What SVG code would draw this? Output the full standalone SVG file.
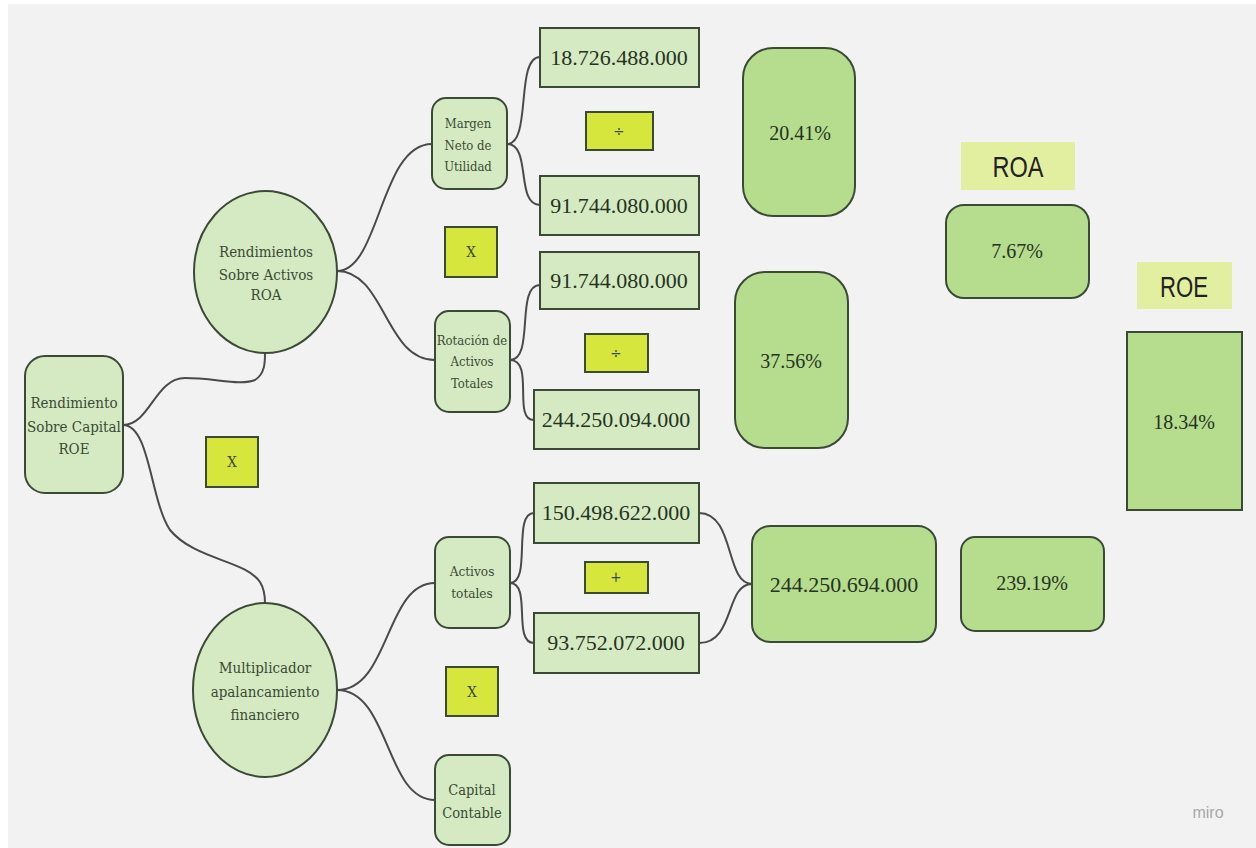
<svg xmlns="http://www.w3.org/2000/svg" width="1256" height="848" viewBox="0 0 1256 848">
<style>
.lt{fill:#d5eac2;stroke:#3b4a36;stroke-width:2}
.dk{fill:#b6dc8e;stroke:#3b4a36;stroke-width:2}
.op{fill:#d6e63c;stroke:#3b4a36;stroke-width:2}
.lbl{fill:#e3efa0}
.con{fill:none;stroke:#4a4a4a;stroke-width:2}
.s{font-family:"DejaVu Serif",serif;font-stretch:condensed;fill:#3a4a35;text-anchor:middle}
.n{font-family:"Liberation Serif",serif;font-size:22px;fill:#263322;text-anchor:middle}
.p{font-family:"Liberation Serif",serif;font-size:20px;fill:#263322;text-anchor:middle}
.o{font-family:"DejaVu Serif",serif;font-stretch:condensed;font-size:15px;fill:#3a4a35;text-anchor:middle}
.h{font-family:"Liberation Sans",sans-serif;font-size:30px;fill:#222;text-anchor:middle}
</style>
<rect width="1256" height="848" fill="#ffffff"/>
<rect x="8" y="4" width="1248" height="844" fill="#f2f2f2"/>
<g id="connectors">
<path class="con" d="M123,425 C150,425 155,378 185,378 C215,378 240,386 255,380 C265,374 265,362 265,353"/>
<path class="con" d="M123,425 C150,425 150,500 170,530 C195,560 245,560 260,582 C265,590 265,597 265,603"/>
<path class="con" d="M337,271 C380,271 380,144 432,144"/>
<path class="con" d="M337,271 C385,271 385,360 435,360"/>
<path class="con" d="M337,690 C390,690 385,583 435,583"/>
<path class="con" d="M337,690 C390,690 385,800 435,800"/>
<path class="con" d="M507,144 C532,144 515,57 540,57"/>
<path class="con" d="M507,144 C532,144 515,205 540,205"/>
<path class="con" d="M510,360 C535,360 515,285 540,285"/>
<path class="con" d="M510,360 C535,360 512,420 534,420"/>
<path class="con" d="M510,583 C532,583 512,513 534,513"/>
<path class="con" d="M510,583 C532,583 512,643 534,643"/>
<path class="con" d="M699,513 C735,513 725,584 752,584"/>
<path class="con" d="M699,643 C735,643 725,584 752,584"/>
</g>
<g id="root"><rect class="lt" x="25" y="356" width="98" height="137" rx="20"/>
<text class="s" style="font-size:15px"><tspan x="74" y="408">Rendimiento</tspan><tspan x="74" y="432">Sobre Capital</tspan><tspan x="74" y="454">ROE</tspan></text></g>
<g id="roa-circle"><ellipse class="lt" cx="265.5" cy="272" rx="71.5" ry="81"/>
<text class="s" style="font-size:15px"><tspan x="266" y="257">Rendimientos</tspan><tspan x="266" y="280">Sobre Activos</tspan><tspan x="266" y="300">ROA</tspan></text></g>
<g id="mult-circle"><ellipse class="lt" cx="265" cy="690" rx="72" ry="87"/>
<text class="s" style="font-size:15px"><tspan x="265" y="673">Multiplicador</tspan><tspan x="265" y="697">apalancamiento</tspan><tspan x="265" y="720">financiero</tspan></text></g>
<g id="op-x1"><rect class="op" x="206" y="437" width="52" height="50"/><text class="o" x="232" y="467">X</text></g>
<g id="margen"><rect class="lt" x="432" y="98" width="75" height="91" rx="14"/>
<text class="s" style="font-size:13px"><tspan x="468" y="128">Margen</tspan><tspan x="468" y="150">Neto de</tspan><tspan x="468" y="171">Utilidad</tspan></text></g>
<g id="v1"><rect class="lt" x="540" y="28" width="159" height="59"/><text class="n" x="619" y="65">18.726.488.000</text></g>
<g id="op-div1"><rect class="op" x="586" y="112" width="67" height="38"/><text class="o" x="619" y="136">÷</text></g>
<g id="v2"><rect class="lt" x="540" y="176" width="159" height="59"/><text class="n" x="619" y="213">91.744.080.000</text></g>
<g id="op-x2"><rect class="op" x="445" y="227" width="52" height="50"/><text class="o" x="471" y="257">X</text></g>
<g id="v3"><rect class="lt" x="540" y="252" width="159" height="57"/><text class="n" x="619" y="288">91.744.080.000</text></g>
<g id="rotacion"><rect class="lt" x="435" y="311" width="75" height="101" rx="14"/>
<text class="s" style="font-size:13px"><tspan x="472" y="345">Rotación de</tspan><tspan x="472" y="366">Activos</tspan><tspan x="472" y="388">Totales</tspan></text></g>
<g id="op-div2"><rect class="op" x="585" y="334" width="63" height="38"/><text class="o" x="616" y="358">÷</text></g>
<g id="v4"><rect class="lt" x="534" y="390" width="165" height="59"/><text class="n" x="616" y="427">244.250.094.000</text></g>
<g id="r1"><rect class="dk" x="743" y="48" width="112" height="168" rx="30"/><text class="p" x="800" y="140">20.41%</text></g>
<g id="r2"><rect class="dk" x="735" y="272" width="113" height="176" rx="30"/><text class="p" x="791" y="368">37.56%</text></g>
<g id="roa-label"><rect class="lbl" x="961" y="142" width="114" height="48"/><text class="h" x="1018" y="177" textLength="51" lengthAdjust="spacingAndGlyphs">ROA</text></g>
<g id="roa-val"><rect class="dk" x="946" y="205" width="143" height="93" rx="18"/><text class="p" x="1017" y="258">7.67%</text></g>
<g id="roe-label"><rect class="lbl" x="1137" y="262" width="95" height="47"/><text class="h" x="1184" y="297" textLength="48" lengthAdjust="spacingAndGlyphs">ROE</text></g>
<g id="roe-val"><rect class="dk" x="1127" y="332" width="115" height="178"/><text class="p" x="1184" y="429">18.34%</text></g>
<g id="activos"><rect class="lt" x="435" y="537" width="75" height="91" rx="14"/>
<text class="s" style="font-size:13.5px"><tspan x="472" y="576">Activos</tspan><tspan x="472" y="598">totales</tspan></text></g>
<g id="v5"><rect class="lt" x="534" y="483" width="165" height="60"/><text class="n" x="616" y="520">150.498.622.000</text></g>
<g id="op-plus"><rect class="op" x="585" y="562" width="63" height="31"/><text class="o" x="616" y="582">+</text></g>
<g id="v6"><rect class="lt" x="534" y="613" width="165" height="60"/><text class="n" x="616" y="650">93.752.072.000</text></g>
<g id="op-x3"><rect class="op" x="446" y="667" width="52" height="49"/><text class="o" x="472" y="697">X</text></g>
<g id="capital"><rect class="lt" x="435" y="755" width="75" height="90" rx="14"/>
<text class="s" style="font-size:14.5px"><tspan x="472" y="795">Capital</tspan><tspan x="472" y="818">Contable</tspan></text></g>
<g id="sum"><rect class="dk" x="752" y="526" width="184" height="116" rx="18"/><text class="n" x="844" y="592">244.250.694.000</text></g>
<g id="mult-val"><rect class="dk" x="961" y="537" width="143" height="94" rx="14"/><text class="p" x="1032" y="590">239.19%</text></g>
<text x="1208" y="818" font-family="Liberation Sans,sans-serif" font-size="16" fill="#a8a8a8" text-anchor="middle">miro</text>
</svg>
